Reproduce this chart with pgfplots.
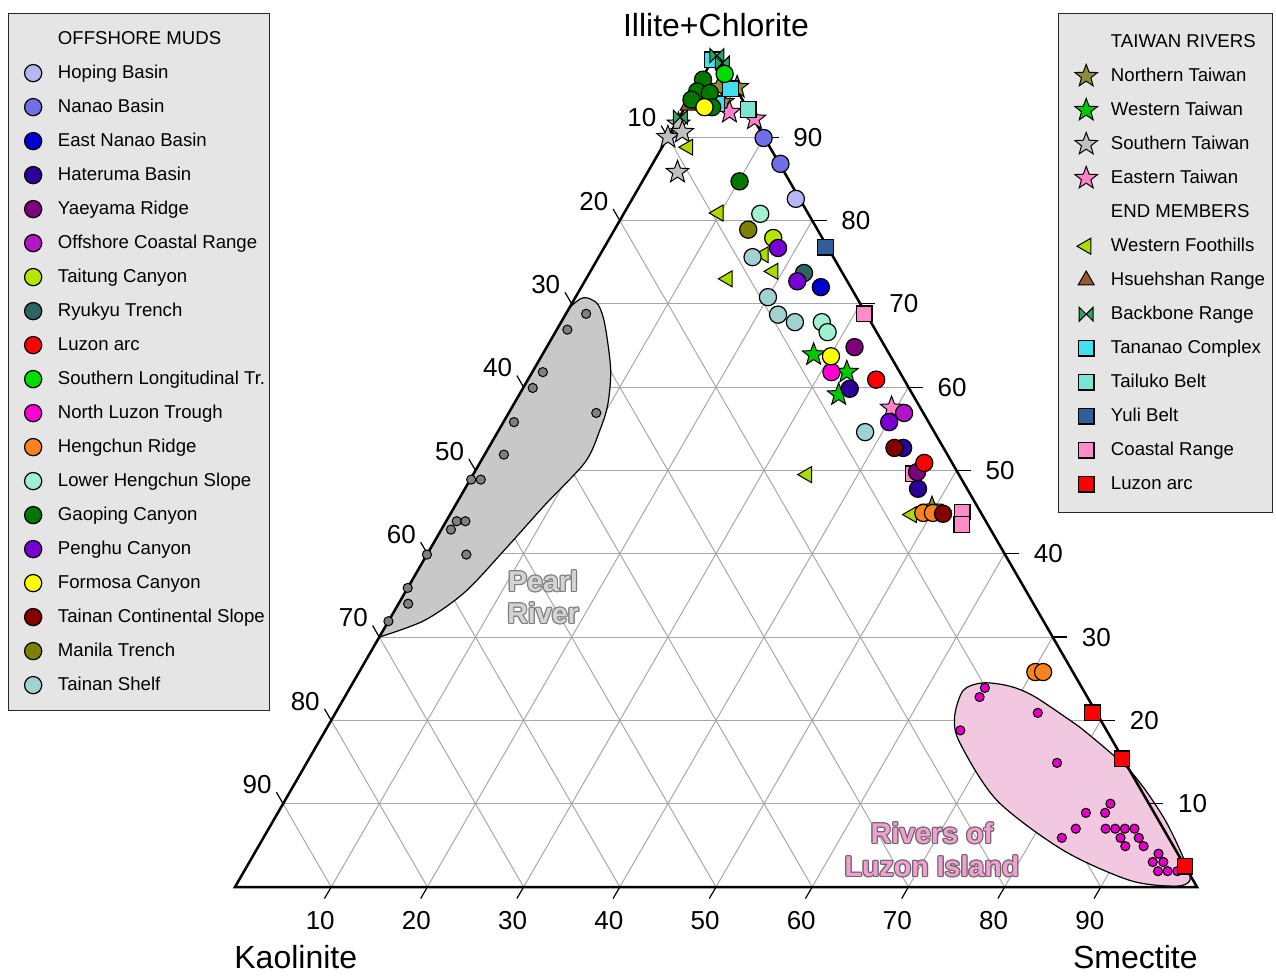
\documentclass[border=0pt]{standalone}
\usepackage{pgfplots}
\pgfplotsset{compat=1.18}
\usepackage{fontspec}
\setmainfont{Liberation Sans}

\definecolor{cHoping}{RGB}{180,182,245}
\definecolor{cNanao}{RGB}{112,112,230}
\definecolor{cEastNanao}{RGB}{0,0,205}
\definecolor{cHateruma}{RGB}{42,0,150}
\definecolor{cYaeyama}{RGB}{125,0,125}
\definecolor{cOffCoastal}{RGB}{180,20,200}
\definecolor{cTaitung}{RGB}{180,230,0}
\definecolor{cRyukyu}{RGB}{47,100,100}
\definecolor{cLuzonArc}{RGB}{255,0,0}
\definecolor{cSouthLong}{RGB}{0,220,0}
\definecolor{cNorthLuzon}{RGB}{255,0,210}
\definecolor{cHengchun}{RGB}{255,130,30}
\definecolor{cLowerHeng}{RGB}{160,240,210}
\definecolor{cGaoping}{RGB}{0,120,0}
\definecolor{cPenghu}{RGB}{120,0,210}
\definecolor{cFormosa}{RGB}{255,255,0}
\definecolor{cTainanCS}{RGB}{130,0,0}
\definecolor{cManila}{RGB}{128,128,0}
\definecolor{cTainanShelf}{RGB}{160,210,210}
\definecolor{cNorthTW}{RGB}{140,140,60}
\definecolor{cWestTW}{RGB}{0,200,0}
\definecolor{cSouthTW}{RGB}{192,192,192}
\definecolor{cEastTW}{RGB}{255,130,200}
\definecolor{cFoothills}{RGB}{170,220,0}
\definecolor{cHsuehshan}{RGB}{155,90,45}
\definecolor{cBackbone}{RGB}{48,160,96}
\definecolor{cTananao}{RGB}{64,224,240}
\definecolor{cTailuko}{RGB}{120,230,210}
\definecolor{cYuli}{RGB}{47,95,154}
\definecolor{cCoastal}{RGB}{255,140,200}
\definecolor{cPearlFill}{RGB}{200,200,200}
\definecolor{cPearlPt}{RGB}{128,128,128}
\definecolor{cLuzonFill}{RGB}{242,200,224}
\definecolor{cLuzonPt}{RGB}{225,0,195}
\definecolor{cGrid}{RGB}{168,168,168}
\definecolor{cPearlTxt}{RGB}{212,212,212}
\definecolor{cPearlOut}{RGB}{125,125,125}
\definecolor{cRivTxt}{RGB}{240,160,210}
\definecolor{cRivOut}{RGB}{110,100,105}

\newcommand\ocp[3]{\makebox[0pt][l]{\kern#1\raisebox{#2}{#3}}}
\newcommand\outlined[3]{%
 \ocp{0.6pt}{0pt}{\color{#1}#3}\ocp{-0.6pt}{0pt}{\color{#1}#3}%
 \ocp{0pt}{0.6pt}{\color{#1}#3}\ocp{0pt}{-0.6pt}{\color{#1}#3}%
 \ocp{0.42pt}{0.42pt}{\color{#1}#3}\ocp{-0.42pt}{0.42pt}{\color{#1}#3}%
 \ocp{0.42pt}{-0.42pt}{\color{#1}#3}\ocp{-0.42pt}{-0.42pt}{\color{#1}#3}%
 {\color{#2}#3}}

\pgfdeclareplotmark{fstar}{%
 \pgfpathmoveto{\pgfpointpolar{90}{\pgfplotmarksize}}%
 \pgfpathlineto{\pgfpointpolar{126}{0.42\pgfplotmarksize}}%
 \pgfpathlineto{\pgfpointpolar{162}{\pgfplotmarksize}}%
 \pgfpathlineto{\pgfpointpolar{198}{0.42\pgfplotmarksize}}%
 \pgfpathlineto{\pgfpointpolar{234}{\pgfplotmarksize}}%
 \pgfpathlineto{\pgfpointpolar{270}{0.42\pgfplotmarksize}}%
 \pgfpathlineto{\pgfpointpolar{306}{\pgfplotmarksize}}%
 \pgfpathlineto{\pgfpointpolar{342}{0.42\pgfplotmarksize}}%
 \pgfpathlineto{\pgfpointpolar{18}{\pgfplotmarksize}}%
 \pgfpathlineto{\pgfpointpolar{54}{0.42\pgfplotmarksize}}%
 \pgfpathclose\pgfusepathqfillstroke}
\pgfdeclareplotmark{bowtie}{%
 \pgfpathmoveto{\pgfqpoint{-\pgfplotmarksize}{\pgfplotmarksize}}%
 \pgfpathlineto{\pgfqpoint{\pgfplotmarksize}{-\pgfplotmarksize}}%
 \pgfpathlineto{\pgfqpoint{\pgfplotmarksize}{\pgfplotmarksize}}%
 \pgfpathlineto{\pgfqpoint{-\pgfplotmarksize}{-\pgfplotmarksize}}%
 \pgfpathclose\pgfusepathqfillstroke}

\pgfplotsset{
 /pgfplots/table/tern/.style={row sep=\\, x expr=\thisrow{S}+0.5*\thisrow{I}, y expr=0.8660254*\thisrow{I}},
 myleg/.style={legend image code/.code={\path[draw=none,fill=none] (-10pt,0pt) -- (10pt,0pt); \draw[##1,/tikz/only marks] plot coordinates {(0pt,0pt)};}},
 circ/.style={only marks, mark=*, mark size=4.3pt, mark options={draw=black, fill=#1, line width=0.6pt}, myleg},
 starm/.style={only marks, mark=fstar, mark size=5.9pt, mark options={draw=black, fill=#1, line width=0.5pt, line join=miter}, myleg},
 sqm/.style={only marks, mark=square*, mark size=3.9pt, mark options={draw=black, fill=#1, line width=0.6pt}, myleg},
 ltri/.style={only marks, mark=triangle*, mark size=4.6pt, mark options={draw=black, fill=#1, line width=0.5pt, rotate=90}, myleg},
 utri/.style={only marks, mark=triangle*, mark size=4.6pt, mark options={draw=black, fill=#1, line width=0.5pt}, myleg},
 bow/.style={only marks, mark=bowtie, mark size=3.5pt, mark options={draw=black, fill=#1, line width=0.5pt}, myleg},
 smallc/.style={only marks, mark=*, mark size=2.3pt, mark options={draw=black, fill=#1, line width=0.5pt}, forget plot},
 base/.style={x=4.81pt, y=4.81pt, xmin=-24.4283, xmax=108.2121, ymin=-8.7318, ymax=92.2037,
   hide axis, clip=false, at={(0,0)}, anchor=south west, legend cell align=left},
 legbox/.style={fill=gray!20, draw=black!85, line width=0.6pt, font=\fontsize{9.3}{11}\selectfont,
   nodes={inner sep=0pt, text height=10pt, text depth=5pt}, row sep=2pt,
   /tikz/every odd column/.append style={column sep=2.4pt}, anchor=north west},
}

\begin{document}
\begin{tikzpicture}
% ---------------- axis A: frame, regions, Taiwan rivers, end members
\begin{axis}[base, legend style={legbox, at={(axis cs:85.55,90.85)}, inner xsep=3.8pt, inner ysep=6.8pt}]
\path (rel axis cs:0,0) rectangle (rel axis cs:1,1);
\pgfplotsinvokeforeach{10,20,...,90}{
  \draw[cGrid, line width=0.5pt] (axis cs:{#1/2},{0.8660254*#1}) -- (axis cs:{100-#1/2},{0.8660254*#1});
  \draw[cGrid, line width=0.5pt] (axis cs:#1,0) -- (axis cs:{#1+(100-#1)/2},{0.8660254*(100-#1)});
  \draw[cGrid, line width=0.5pt] (axis cs:#1,0) -- (axis cs:{#1/2},{0.8660254*#1});
}
% Pearl River field
\addplot[fill=cPearlFill, draw=black, line width=0.6pt, smooth, forget plot] table[tern]{
S I\\ 0.0 69.6\\ 0.6 70.6\\ 1.3 70.7\\ 2.8 69.9\\ 4.7 67.5\\ 8.0 62.1\\ 9.8 57.9\\ 10.5 54.9\\ 10.9 51.0\\ 9.3 45.9\\ 7.8 40.5\\ 6.2 35.4\\ 3.7 32.0\\ 0.0 30.0\\} -- cycle;
% Luzon rivers field
\addplot[fill=cLuzonFill, draw=black, line width=0.6pt, smooth, forget plot] table[tern]{
S I\\ 78.2 19.2\\ 86.0 14.0\\ 92.3 8.4\\ 97.1 3.2\\ 98.85 0.84\\ 97.7 0.1\\ 92.6 0.8\\ 83.9 4.4\\ 74.0 10.4\\ 66.7 17.3\\ 64.6 20.4\\ 63.9 23.6\\ 65.5 24.5\\ 68.5 24.1\\ 71.8 22.8\\ 78.2 19.2\\} -- cycle;
\draw[line width=1.25pt, line join=miter] (axis cs:0,0) -- (axis cs:100,0) -- (axis cs:50,86.60254) -- cycle;
\pgfplotsinvokeforeach{10,20,...,90}{
  \draw[line width=0.6pt] (axis cs:#1,0) -- (axis cs:{#1-0.7},-1.2);
  \draw[line width=0.6pt] (axis cs:{100-#1/2},{0.8660254*#1}) -- (axis cs:{101.5-#1/2},{0.8660254*#1});
  \draw[line width=0.6pt] (axis cs:{(100-#1)/2},{0.8660254*(100-#1)}) -- (axis cs:{(100-#1)/2-0.7},{0.8660254*(100-#1)+1.2});
  \node[font=\fontsize{13}{15}\selectfont] at (axis cs:{#1-1.14},-3.53) {#1};
  \node[font=\fontsize{13}{15}\selectfont, anchor=west] at (axis cs:{102.3-#1/2},{0.8660254*#1}) {#1};
  \node[font=\fontsize{13}{15}\selectfont] at (axis cs:{(100-#1)/2-2.7},{0.8660254*(100-#1)+2.0}) {#1};
}
\node[font=\fontsize{16}{19}\selectfont] at (axis cs:50,89.6) {Illite+Chlorite};
\node[font=\fontsize{16}{19}\selectfont, anchor=west] at (axis cs:-0.8,-7.28) {Kaolinite};
\node[font=\fontsize{16}{19}\selectfont, anchor=east] at (axis cs:100.8,-7.28) {Smectite};
\node[font=\bfseries\fontsize{14.3}{16}\selectfont] at (axis cs:32.02,31.81) {\outlined{cPearlOut}{cPearlTxt}{Pearl}};
\node[font=\bfseries\fontsize{14.3}{16}\selectfont] at (axis cs:32.02,28.48) {\outlined{cPearlOut}{cPearlTxt}{River}};
\node[font=\bfseries\fontsize{14.3}{16}\selectfont] at (axis cs:72.45,5.61) {\outlined{cRivOut}{cRivTxt}{Rivers of}};
\node[font=\bfseries\fontsize{14.3}{16}\selectfont] at (axis cs:72.45,2.18) {\outlined{cRivOut}{cRivTxt}{Luzon Island}};
% Pearl River samples
\addplot[smallc=cPearlPt] table[tern]{
S I\\ 2.1 68.8\\ 1.1 66.9\\ 1.1 61.8\\ 1.0 59.9\\ 9.1 56.9\\ 1.1 55.8\\ 2.0 51.9\\ 0.1 48.9\\ 1.1 48.9\\ 1.1 43.9\\ 2.0 43.9\\ 1.0 42.9\\ 0.0 39.9\\ 4.1 39.9\\ 0.0 35.9\\ 1.0 34.0\\ 0.0 31.9\\};
% Luzon rivers samples
\addplot[smallc=cLuzonPt] table[tern]{
S I\\ 66.0 23.9\\ 66.0 22.8\\ 73.0 20.9\\ 66.0 18.8\\ 78.0 14.9\\ 86.0 10.0\\ 84.0 8.9\\ 86.0 8.9\\ 83.9 7.0\\ 83.0 5.9\\ 87.0 7.0\\ 88.0 7.0\\ 89.0 7.0\\ 90.0 7.0\\ 89.1 5.9\\ 91.0 5.9\\ 90.1 4.9\\ 92.0 4.9\\ 94.0 4.0\\ 93.9 3.0\\ 95.0 3.0\\ 95.0 1.9\\ 96.0 1.9\\ 97.0 1.9\\};
% Taiwan rivers
\addlegendimage{empty legend}\addlegendentry{TAIWAN RIVERS}
\addplot[starm=cNorthTW] table[tern]{S I\\ 2.3 96.0\\ 4.2 96.0\\ 3.6 94.2\\ 49.7 45.5\\}; \addlegendentry{Northern Taiwan}
\addplot[starm=cWestTW] table[tern]{S I\\ 28.2 63.9\\ 32.7 61.8\\ 33.2 59.1\\}; \addlegendentry{Western Taiwan}
\addplot[starm=cSouthTW] table[tern]{S I\\ 0.3 91.6\\ 0.0 90.0\\ 1.2 90.6\\ 3.1 85.8\\}; \addlegendentry{Southern Taiwan}
\addplot[starm=cEastTW] table[tern]{S I\\ 4.9 93.0\\ 7.9 92.2\\ 39.5 57.5\\}; \addlegendentry{Eastern Taiwan}
% End members
\addlegendimage{empty legend}\addlegendentry{END MEMBERS}
\addplot[ltri=cFoothills] table[tern]{S I\\ 2.7 88.8\\ 9.8 80.9\\ 17.0 75.9\\ 19.0 73.9\\ 14.7 73.0\\ 34.7 49.5\\ 48.0 44.7\\}; \addlegendentry{Western Foothills}
\addplot[utri=cHsuehshan] table[tern]{S I\\ 0.2 93.8\\}; \addlegendentry{Hsuehshan Range}
\addplot[sqm=cTananao, forget plot] table[tern]{S I\\ 0.0 99.3\\}; 
\addplot[bow=cBackbone] table[tern]{S I\\ 0.2 99.8\\ 1.2 98.9\\ 0.1 92.4\\}; \addlegendentry{Backbone Range}
\addplot[sqm=cTananao] table[tern]{S I\\ 3.1 94.0\\ 3.6 95.8\\}; \addlegendentry{Tananao Complex}
\addplot[sqm=cTailuko] table[tern]{S I\\ 6.7 93.3\\}; \addlegendentry{Tailuko Belt}
\addplot[sqm=cYuli] table[tern]{S I\\ 23.0 76.8\\}; \addlegendentry{Yuli Belt}
\addplot[sqm=cCoastal] table[tern]{S I\\ 31.0 68.8\\ 45.7 49.6\\ 53.1 45.0\\ 53.8 43.5\\}; \addlegendentry{Coastal Range}
\addplot[sqm=cLuzonArc] table[tern]{S I\\ 78.7 20.9\\ 84.5 15.4\\ 97.5 2.5\\}; \addlegendentry{Luzon arc}
\end{axis}
% ---------------- axis B: offshore muds
\begin{axis}[base, legend style={legbox, at={(axis cs:-23.60,90.85)}, inner xsep=2.3pt, inner ysep=5.25pt}]
\addlegendimage{empty legend}\addlegendentry{OFFSHORE MUDS}
\addplot[circ=cHoping] table[tern]{S I\\ 17.0 82.6\\}; \addlegendentry{Hoping Basin}
\addplot[circ=cNanao] table[tern]{S I\\ 10.0 89.9\\ 13.3 86.8\\}; \addlegendentry{Nanao Basin}
\addplot[circ=cEastNanao] table[tern]{S I\\ 24.9 72.0\\}; \addlegendentry{East Nanao Basin}
\addplot[circ=cHateruma] table[tern]{S I\\ 34.0 59.8\\ 43.1 52.7\\ 47.1 47.8\\}; \addlegendentry{Hateruma Basin}
\addplot[circ=cYaeyama] table[tern]{S I\\ 32.0 64.8\\ 46.0 49.8\\}; \addlegendentry{Yaeyama Ridge}
\addplot[circ=cOffCoastal] table[tern]{S I\\ 41.1 56.9\\}; \addlegendentry{Offshore Coastal Range}
\addplot[circ=cTaitung] table[tern]{S I\\ 17.0 77.9\\}; \addlegendentry{Taitung Canyon}
\addplot[circ=cRyukyu] table[tern]{S I\\ 22.3 73.7\\}; \addlegendentry{Ryukyu Trench}
\addplot[circ=cLuzonArc] table[tern]{S I\\ 36.2 60.9\\ 46.2 50.9\\}; \addlegendentry{Luzon arc}
\addplot[circ=cSouthLong] table[tern]{S I\\ 2.1 97.6\\}; \addlegendentry{Southern Longitudinal Tr.}
\addplot[circ=cNorthLuzon] table[tern]{S I\\ 31.1 61.8\\}; \addlegendentry{North Luzon Trough}
\addplot[circ=cHengchun] table[tern]{S I\\ 49.1 44.9\\ 50.1 44.9\\ 70.3 25.8\\ 71.1 25.8\\}; \addlegendentry{Hengchun Ridge}
\addplot[circ=cLowerHeng] table[tern]{S I\\ 14.2 80.8\\ 27.1 67.8\\ 28.3 66.6\\}; \addlegendentry{Lower Hengchun Slope}
\addplot[circ=cGaoping] table[tern]{S I\\ 10.1 84.7\\ 0.2 96.9\\ 0.3 95.5\\ 1.7 95.3\\ 0.2 94.5\\ 2.8 93.6\\}; \addlegendentry{Gaoping Canyon}
\addplot[circ=cPenghu] table[tern]{S I\\ 18.1 76.7\\ 22.1 72.7\\ 40.1 55.8\\}; \addlegendentry{Penghu Canyon}
\addplot[circ=cFormosa] table[tern]{S I\\ 2.0 93.6\\ 30.1 63.7\\}; \addlegendentry{Formosa Canyon}
\addplot[circ=cTainanCS] table[tern]{S I\\ 42.2 52.7\\ 51.2 44.8\\}; \addlegendentry{Tainan Continental Slope}
\addplot[circ=cManila] table[tern]{S I\\ 13.9 78.9\\}; \addlegendentry{Manila Trench}
\addplot[circ=cTainanShelf] table[tern]{S I\\ 16.0 75.6\\ 20.0 70.8\\ 22.1 68.7\\ 24.3 67.8\\ 38.2 54.6\\}; \addlegendentry{Tainan Shelf}
\end{axis}
\end{tikzpicture}
\end{document}
